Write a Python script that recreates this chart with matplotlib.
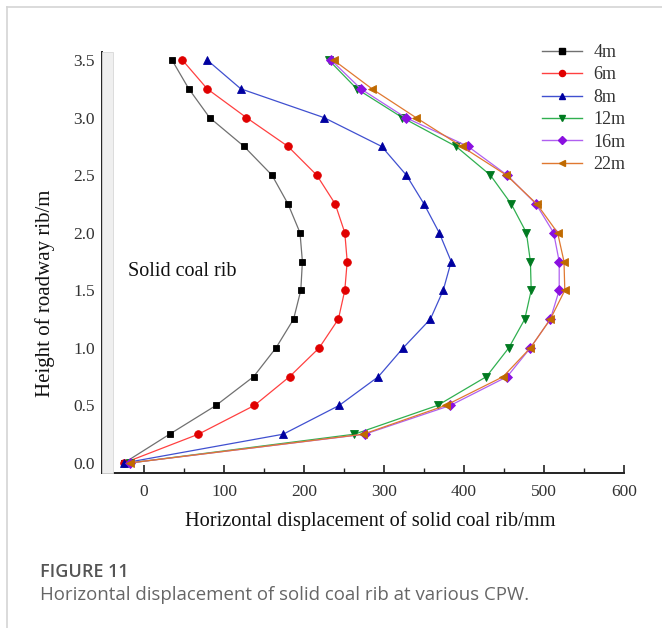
import matplotlib
matplotlib.use("Agg")
import matplotlib.pyplot as plt
from matplotlib.lines import Line2D
from matplotlib.patches import Rectangle
from matplotlib.ticker import MultipleLocator, FormatStrFormatter

# ---------------- data ----------------
heights = [0.0, 0.25, 0.5, 0.75, 1.0, 1.25, 1.5, 1.75, 2.0, 2.25, 2.5, 2.75, 3.0, 3.25, 3.5]

disp_4m  = [-25, 32, 90, 137, 165, 187, 196, 198, 195, 180, 160, 125, 82, 56, 35]
disp_6m  = [-25, 68, 138, 182, 219, 243, 251, 254, 251, 239, 216, 180, 128, 79, 48]
disp_8m  = [-25, 174, 244, 293, 324, 358, 374, 384, 369, 350, 328, 297, 225, 121, 79]
disp_12m = [-18, 263, 367, 428, 456, 476, 484, 483, 478, 459, 433, 390, 323, 266, 231]
disp_16m = [-18, 276, 383, 454, 483, 508, 519, 519, 512, 490, 454, 405, 327, 271, 234]
disp_22m = [-18, 274, 377, 449, 483, 508, 526, 525, 517, 491, 453, 397, 340, 285, 237]

series_labels = ["4m", "6m", "8m", "12m", "16m", "22m"]
x_label = "Horizontal displacement of solid coal rib/mm"
y_label = "Height of roadway rib/m"
annotation = "Solid coal rib"
fig_title = "FIGURE 11"
fig_caption = "Horizontal displacement of solid coal rib at various CPW."

# ---------------- styles ----------------
line_colors   = ["#707070", "#ff4040", "#4050d0", "#30b050", "#b060f0", "#e07830"]
marker_colors = ["#000000", "#e00000", "#0000a0", "#007a20", "#8a10e0", "#c06a00"]
markers       = ["s", "o", "^", "v", "D", "<"]
msizes        = [5, 5.5, 6, 6, 5, 6]

W, H = 662, 628
fig = plt.figure(figsize=(W / 100, H / 100), dpi=100)

def fx(px):
    return px / W

def fy(py):
    return 1 - py / H

ax_l, ax_r, ax_t, ax_b = 102, 624, 52, 473
ax = fig.add_axes([fx(ax_l), fy(ax_b), fx(ax_r) - fx(ax_l), fy(ax_t) - fy(ax_b)])

# light grey strip along left spine
fig.patches.append(Rectangle((fx(102), fy(473)), fx(113) - fx(102), fy(52) - fy(473),
                             transform=fig.transFigure, facecolor="#efefef",
                             edgecolor="#d8d8d8", lw=0.6, zorder=0))
ax.patch.set_alpha(0)

all_series = [disp_4m, disp_6m, disp_8m, disp_12m, disp_16m, disp_22m]
for vals, lab, lc, mc, mk, ms in zip(all_series, series_labels, line_colors,
                                     marker_colors, markers, msizes):
    ax.plot(vals, heights, color=lc, lw=0.9, marker=mk, markersize=ms,
            markerfacecolor=mc, markeredgecolor=mc, markeredgewidth=0.6, label=lab)

ax.set_xlim(-52.5, 600)
ax.set_ylim(-0.087, 3.57)

ax.spines["top"].set_visible(False)
ax.spines["right"].set_visible(False)
for s in ("left", "bottom"):
    ax.spines[s].set_linewidth(1.4)
    ax.spines[s].set_color("#222222")

ax.xaxis.set_major_locator(MultipleLocator(100))
ax.xaxis.set_minor_locator(MultipleLocator(50))
ax.yaxis.set_major_locator(MultipleLocator(0.5))
ax.yaxis.set_minor_locator(MultipleLocator(0.25))
ax.yaxis.set_major_formatter(FormatStrFormatter("%.1f"))

serif = ["Liberation Serif", "DejaVu Serif"]
ax.tick_params(which="major", direction="in", length=6, width=1.2, color="#222222",
               labelsize=12.5, labelcolor="#333333")
ax.tick_params(axis="x", which="major", pad=8)
ax.tick_params(axis="y", which="major", pad=5)
ax.tick_params(which="minor", direction="in", length=3.5, width=1.0, color="#222222")
for t in ax.get_xticklabels() + ax.get_yticklabels():
    t.set_family(serif)

fig.text(fx(370), fy(521), x_label, ha="center", va="center", fontsize=14.7,
         family=serif, color="#111111")
fig.text(fx(45), fy(293), y_label, ha="center", va="center", rotation=90,
         fontsize=15, family=serif, color="#111111")

ax.text(-20, 1.66, annotation, ha="left", va="center", fontsize=14.5,
        family=serif, color="#111111")

# legend
handles = [Line2D([], [], color=lc, lw=1.0, marker=mk, markersize=ms * 0.8,
                  markerfacecolor=mc, markeredgecolor=mc)
           for lc, mc, mk, ms in zip(line_colors, marker_colors, markers, msizes)]
leg = fig.legend(handles, series_labels, loc="upper left",
                 bbox_to_anchor=(fx(533), fy(35)), frameon=False,
                 prop={"family": serif, "size": 13}, handlelength=2.2,
                 handletextpad=0.65, labelspacing=0.3, borderpad=0)
for t in leg.get_texts():
    t.set_color("#333333")

# caption
fig.text(fx(40), fy(572), fig_title, ha="left", va="center", fontsize=13,
         family=["Open Sans", "DejaVu Sans"], fontweight="semibold", color="#555555")
fig.text(fx(40), fy(595), fig_caption, ha="left", va="center", fontsize=13.4,
         family=["Open Sans", "DejaVu Sans"], color="#666666")

# page border lines
fig.add_artist(Line2D([fx(6.5), 1], [fy(6.5), fy(6.5)], transform=fig.transFigure,
                      color="#d4d4d4", lw=1.2))
fig.add_artist(Line2D([fx(6.5), fx(6.5)], [fy(6.5), 0], transform=fig.transFigure,
                      color="#d4d4d4", lw=1.2))

fig.savefig("out.png", dpi=100)
